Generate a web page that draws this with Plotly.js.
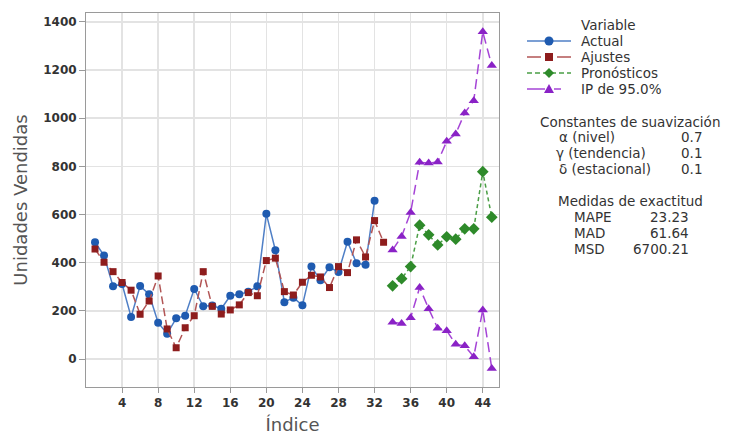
<!DOCTYPE html>
<html>
<head>
<meta charset="utf-8">
<script src="https://cdn.plot.ly/plotly-3.0.1.min.js"></script>
<style>
html,body{margin:0;padding:0;background:#fff;}
#chart{width:730px;height:435px;}
</style>
</head>
<body>
<div id="chart"></div>
<script>
// ---- data ----
var idxActual = [1,2,3,4,5,6,7,8,9,10,11,12,13,14,15,16,17,18,19,20,21,22,23,24,25,26,27,28,29,30,31,32];
var actual = [485,430,302,312,175,303,269,151,105,169,180,291,219,222,209,263,269,279,302,603,452,236,255,223,384,327,381,362,487,398,392,657];
var idxFits = [1,2,3,4,5,6,7,8,9,10,11,12,13,14,15,16,17,18,19,20,21,22,23,24,25,26,27,28,29,30,31,32,33];
var ajustes = [457,402,363,318,286,186,241,345,125,47,130,180,363,219,187,204,225,276,263,409,419,280,266,319,348,341,297,384,359,495,424,575,485];
var idxFore = [34,35,36,37,38,39,40,41,42,43,44,45];
var pronosticos = [304,334,384,556,516,474,508,498,541,541,778,589];
var ipSuperior = [453,509,609,817,814,818,904,935,1022,1073,1359,1219];
var ipInferior = [153,148,172,297,209,128,118,61,55,10,204,-39];
var xTicks = [4,8,12,16,20,24,28,32,36,40,44];
var yTicks = [0,200,400,600,800,1000,1200,1400];
var seriesNames = ['Actual', 'Ajustes', 'Pronósticos', 'IP de 95.0%'];
var statsLabels = ['α (nivel)', 'γ (tendencia)', 'δ (estacional)'];
var statsValues = ['0.7', '0.1', '0.1'];
var accLabels = ['MAPE', 'MAD', 'MSD'];
var accValues = ['23.23', '61.64', '6700.21'];

var C = {
  blueLine: '#4f7fc6', blue: '#1f5bb0',
  redLine: '#b25555', red: '#8e1d1d',
  greenLine: '#4a9e45', green: '#2e8a2a',
  purpleLine: '#a544d6', purple: '#8a22c6'
};
var FONT = 'DejaVu Sans, sans-serif';

var traces = [
  {x: idxActual, y: actual, name: seriesNames[0], mode: 'lines+markers', type: 'scatter',
   line: {color: C.blueLine, width: 1.5},
   marker: {symbol: 'circle', size: 8, color: C.blue}},
  {x: idxFits, y: ajustes, name: seriesNames[1], mode: 'lines+markers', type: 'scatter',
   line: {color: C.redLine, width: 1.5, dash: '8px,4px'},
   marker: {symbol: 'square', size: 7, color: C.red}},
  {x: idxFore, y: pronosticos, name: seriesNames[2], mode: 'lines+markers', type: 'scatter',
   line: {color: C.greenLine, width: 1.5, dash: '4px,3px'},
   marker: {symbol: 'diamond', size: 9, color: C.green}},
  {x: idxFore, y: ipSuperior, name: seriesNames[3], mode: 'lines+markers', type: 'scatter',
   line: {color: C.purpleLine, width: 1.5, dash: '10px,5px'},
   marker: {symbol: 'triangle-up', size: 9, color: C.purple}},
  {x: idxFore, y: ipInferior, name: seriesNames[3], mode: 'lines+markers', type: 'scatter',
   line: {color: C.purpleLine, width: 1.5, dash: '10px,5px'},
   marker: {symbol: 'triangle-up', size: 9, color: C.purple}}
];

// pixel -> paper helpers (plot area: x 86..499, y 13..387)
var PL = 86, PR = 499, PT = 13, PB = 387;
function X(px) { return (px - PL) / (PR - PL); }
function Y(py) { return (PB - py) / (PB - PT); }

var txtFont = {family: FONT, size: 13.5, color: '#333'};
function ann(text, xpx, ypx, anchor) {
  return {xref: 'paper', yref: 'paper', x: X(xpx), y: Y(ypx),
          text: text, showarrow: false, xanchor: anchor, yanchor: 'middle', font: txtFont};
}
var annotations = [
  ann('Variable', 608, 25, 'center'),
  ann(seriesNames[0], 579, 41, 'left'),
  ann(seriesNames[1], 579, 57, 'left'),
  ann(seriesNames[2], 579, 73, 'left'),
  ann(seriesNames[3], 579, 89, 'left'),
  ann('Constantes de suavización', 630, 122, 'center'),
  ann(statsLabels[0], 557, 137, 'left'), ann(statsValues[0], 704, 137, 'right'),
  ann(statsLabels[1], 554, 153, 'left'), ann(statsValues[1], 704, 153, 'right'),
  ann(statsLabels[2], 557, 169, 'left'), ann(statsValues[2], 704, 169, 'right'),
  ann('Medidas de exactitud', 630, 201, 'center'),
  ann(accLabels[0], 572, 217, 'left'), ann(accValues[0], 691, 217, 'right'),
  ann(accLabels[1], 572, 233, 'left'), ann(accValues[1], 691, 233, 'right'),
  ann(accLabels[2], 572, 249, 'left'), ann(accValues[2], 691, 249, 'right')
];

// legend key samples (decoration)
function seg(x0, x1, y, color, dash) {
  return {type: 'line', xref: 'paper', yref: 'paper', x0: X(x0), x1: X(x1), y0: Y(y), y1: Y(y),
          line: {color: color, width: 1.5, dash: dash || 'solid'}};
}
function poly(pts, color) {
  var p = pts.map(function (q, i) { return (i ? 'L' : 'M') + X(q[0]) + ',' + Y(q[1]); }).join(' ') + ' Z';
  return {type: 'path', xref: 'paper', yref: 'paper', path: p, fillcolor: color, line: {width: 0}};
}
var cx = 549;
var shapes = [
  seg(527, 571, 41, C.blueLine),
  {type: 'circle', xref: 'paper', yref: 'paper', x0: X(cx - 4.5), x1: X(cx + 4.5), y0: Y(41 + 4.5), y1: Y(41 - 4.5),
   fillcolor: C.blue, line: {width: 0}},
  seg(527, 541, 57, C.redLine), seg(557, 571, 57, C.redLine),
  poly([[cx - 4, 53], [cx + 4, 53], [cx + 4, 61], [cx - 4, 61]], C.red),
  seg(527, 571, 73, C.greenLine, '5px,3px'),
  poly([[cx, 68], [cx + 5, 73], [cx, 78], [cx - 5, 73]], C.green),
  seg(527, 545, 89, C.purpleLine), seg(554, 561, 89, C.purpleLine),
  poly([[cx, 84], [cx + 5, 93], [cx - 5, 93]], C.purple)
];

var layout = {
  width: 730, height: 435,
  margin: {l: PL, r: 730 - PR, t: PT, b: 435 - PB},
  paper_bgcolor: '#fff', plot_bgcolor: '#fff',
  font: {family: FONT, color: '#333'},
  showlegend: false,
  xaxis: {
    range: [0, 45.8], tickvals: xTicks, ticktext: xTicks.map(String),
    showgrid: true, gridcolor: '#e3e3e3', gridwidth: 1.5, zeroline: false,
    showline: true, linecolor: '#9a9a9a', linewidth: 1, mirror: true,
    ticks: 'outside', ticklen: 5, tickcolor: '#9a9a9a',
    tickfont: {family: FONT, size: 12, color: '#333', weight: 'bold'},
    title: {text: 'Índice', font: {family: FONT, size: 18, color: '#555'}, standoff: 15}
  },
  yaxis: {
    range: [-116, 1437], tickvals: yTicks,
    showgrid: true, gridcolor: '#e3e3e3', gridwidth: 1.5, zeroline: false,
    showline: true, linecolor: '#9a9a9a', linewidth: 1, mirror: true,
    ticks: 'outside', ticklen: 6, tickcolor: '#9a9a9a',
    tickfont: {family: FONT, size: 12, color: '#333', weight: 'bold'},
    title: {text: 'Unidades Vendidas', font: {family: FONT, size: 18, color: '#555'}, standoff: 10}
  },
  annotations: annotations,
  shapes: shapes
};

Plotly.newPlot('chart', traces, layout, {displayModeBar: false, staticPlot: true});
</script>
</body>
</html>
